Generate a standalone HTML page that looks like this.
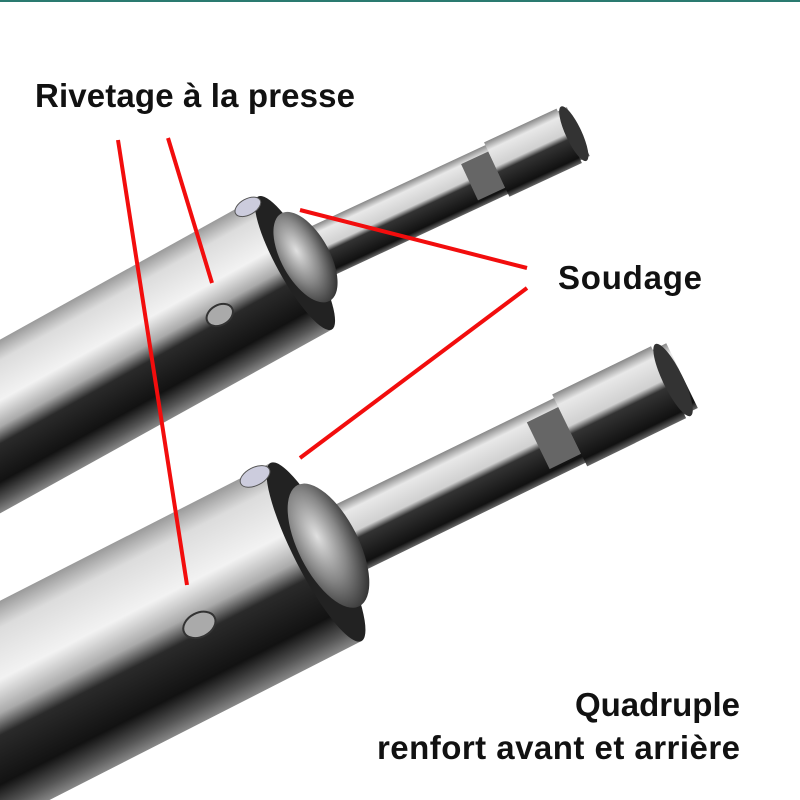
<!DOCTYPE html>
<html><head><meta charset="utf-8"><style>
html,body{margin:0;background:#fff;width:800px;height:800px;overflow:hidden}
svg{display:block}
text{font-family:"Liberation Sans",sans-serif;font-weight:bold;fill:#111}
</style></head><body>
<svg width="800" height="800" viewBox="0 0 800 800">
<defs>
<linearGradient id="tg" x1="0" y1="0" x2="0" y2="1">
<stop offset="0" stop-color="#9a9a9a"/><stop offset="0.12" stop-color="#dcdcdc"/><stop offset="0.35" stop-color="#f2f2f2"/><stop offset="0.5" stop-color="#aaa"/><stop offset="0.6" stop-color="#2a2a2a"/><stop offset="0.82" stop-color="#121212"/><stop offset="0.93" stop-color="#555"/><stop offset="1" stop-color="#888"/>
</linearGradient>
<linearGradient id="sg" x1="0" y1="0" x2="0" y2="1">
<stop offset="0" stop-color="#888"/><stop offset="0.15" stop-color="#e8e8e8"/><stop offset="0.45" stop-color="#d0d0d0"/><stop offset="0.55" stop-color="#333"/><stop offset="0.9" stop-color="#111"/><stop offset="1" stop-color="#666"/>
</linearGradient>
<radialGradient id="cap" cx="0.4" cy="0.4" r="0.7">
<stop offset="0" stop-color="#e0e0e0"/><stop offset="0.5" stop-color="#888"/><stop offset="1" stop-color="#222"/>
</radialGradient>
</defs>
<rect x="0" y="0" width="800" height="2" fill="#2a7a70"/>

<g transform="translate(320,252) rotate(-25)">
<rect x="0" y="-27" width="285" height="54" fill="url(#sg)"/>
<rect x="165" y="-20" width="30" height="40" fill="#666"/>
<rect x="195" y="-30" width="80" height="60" fill="url(#sg)"/>
<ellipse cx="280" cy="0" rx="8" ry="30" fill="#333"/>
</g>
<g transform="translate(295,263) rotate(-29)">
<rect x="-700" y="-76" width="700" height="152" fill="url(#tg)"/>
<ellipse cx="0" cy="0" rx="18" ry="76" fill="#222"/>
<ellipse cx="12" cy="0" rx="24" ry="50" fill="url(#cap)"/>
<ellipse cx="-91" cy="9" rx="14" ry="10" fill="#aaa" stroke="#333" stroke-width="2"/>
<ellipse cx="-14" cy="-72" rx="14" ry="8" fill="#ccd" stroke="#555"/>
</g>

<g transform="translate(345,540) rotate(-26)">
<rect x="0" y="-36" width="375" height="72" fill="url(#sg)"/>
<rect x="215" y="-26" width="35" height="52" fill="#666"/>
<rect x="250" y="-40" width="110" height="80" fill="url(#sg)"/>
<ellipse cx="365" cy="0" rx="10" ry="40" fill="#333"/>
</g>
<g transform="translate(316,552) rotate(-27)">
<rect x="-700" y="-100" width="700" height="200" fill="url(#tg)"/>
<ellipse cx="0" cy="0" rx="22" ry="100" fill="#222"/>
<ellipse cx="14" cy="0" rx="30" ry="68" fill="url(#cap)"/>
<ellipse cx="-137" cy="12" rx="17" ry="12" fill="#aaa" stroke="#333" stroke-width="2"/>
<ellipse cx="-20" cy="-95" rx="16" ry="9" fill="#ccd" stroke="#555"/>
</g>

<g stroke="#f20d0d" stroke-width="4">
<line x1="118" y1="140" x2="187" y2="585"/>
<line x1="168" y1="138" x2="212" y2="283"/>
<line x1="300" y1="210" x2="527" y2="268"/>
<line x1="300" y1="458" x2="527" y2="288"/>
</g>
<text x="35" y="107" font-size="33" textLength="320">Rivetage à la presse</text>
<text x="558" y="289" font-size="33" textLength="144">Soudage</text>
<text x="740" y="716" font-size="33" text-anchor="end">Quadruple</text>
<text x="377" y="759" font-size="33" textLength="363">renfort avant et arrière</text>
</svg>
</body></html>
